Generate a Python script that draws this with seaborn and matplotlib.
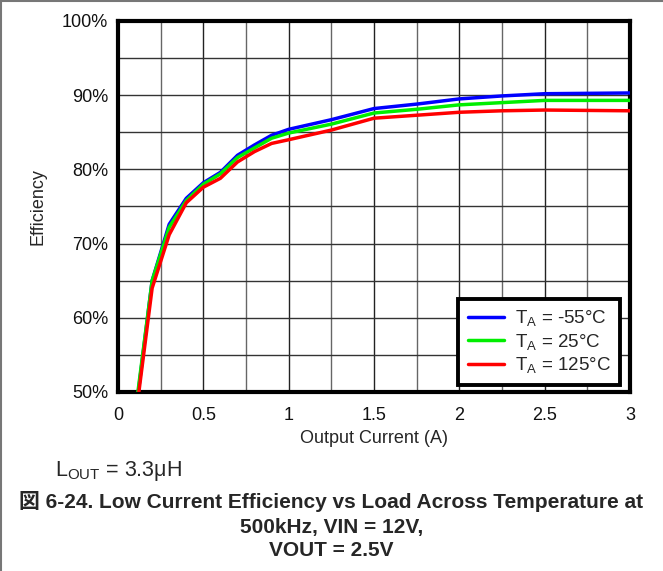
import matplotlib
matplotlib.use("Agg")
import matplotlib.pyplot as plt
from matplotlib.lines import Line2D
import seaborn as sns
import pandas as pd

# Output current (A) at each measured point
current = [0.1, 0.2, 0.3, 0.4, 0.5, 0.6, 0.7, 0.8, 0.9, 1.0,
           1.25, 1.5, 1.75, 2.0, 2.25, 2.5, 3.0]

# Efficiency (%) per ambient temperature
eff_m55 = [46.5, 65.0, 72.6, 76.1, 78.2, 79.6, 81.9, 83.3, 84.6, 85.4,
           86.7, 88.2, 88.8, 89.5, 89.9, 90.2, 90.3]
eff_25 = [47.0, 65.0, 72.2, 75.8, 78.0, 79.4, 81.6, 82.9, 84.2, 84.9,
          86.1, 87.6, 88.1, 88.7, 89.0, 89.3, 89.3]
eff_125 = [46.0, 64.0, 71.2, 75.5, 77.6, 78.8, 81.0, 82.4, 83.5, 84.0,
           85.3, 86.9, 87.3, 87.7, 87.9, 88.0, 87.9]

series_labels = ["T$_\\mathregular{A}$ = -55°C",
                 "T$_\\mathregular{A}$ = 25°C",
                 "T$_\\mathregular{A}$ = 125°C"]
series_colors = ["#0000ff", "#00ee00", "#ff0000"]

x_ticks = [0, 0.5, 1, 1.5, 2, 2.5, 3]
y_ticks = [50, 60, 70, 80, 90, 100]
y_tick_labels = ["50%", "60%", "70%", "80%", "90%", "100%"]

caption_lines = ["図 6-24. Low Current Efficiency vs Load Across Temperature at",
                 "500kHz, VIN = 12V,",
                 "VOUT = 2.5V"]

sns.set_theme(style="white")
plt.rcParams["font.family"] = ["Liberation Sans", "Noto Sans CJK JP", "DejaVu Sans"]
plt.rcParams["mathtext.default"] = "regular"

frames = []
for lbl, vals in zip(series_labels, [eff_m55, eff_25, eff_125]):
    frames.append(pd.DataFrame({"current": current, "eff": vals, "series": lbl}))
df = pd.concat(frames, ignore_index=True)

fig = plt.figure(figsize=(6.63, 5.71), dpi=100)
ax = fig.add_axes([118 / 663, 1 - 392 / 571, 512 / 663, 371 / 571])

# grid every 0.25 A and 5 %
for i, xv in enumerate([i * 0.25 for i in range(1, 12)]):
    ax.axvline(xv, color="#666666" if i % 2 == 0 else "#222222", lw=1.0, zorder=1)
for yv in range(55, 100, 5):
    ax.axhline(yv, color="#333333", lw=1.0, zorder=1)

sns.lineplot(data=df, x="current", y="eff", hue="series",
             palette=dict(zip(series_labels, series_colors)),
             lw=2.5, ax=ax, legend=False, zorder=3)

ax.set_xlim(0, 3)
ax.set_ylim(50, 100)
ax.set_xticks(x_ticks)
ax.set_xticklabels([f"{v:g}" for v in x_ticks], fontsize=13)
ax.set_yticks(y_ticks)
ax.set_yticklabels(y_tick_labels, fontsize=13)
ax.tick_params(axis="x", length=0, pad=11, colors="#111111")
ax.tick_params(axis="y", length=0, pad=7, colors="#111111")
ax.set_xlabel("Output Current (A)", fontsize=13, labelpad=4)
ax.set_ylabel("Efficiency", fontsize=13, labelpad=11)
for sp in ax.spines.values():
    sp.set_visible(True)
    sp.set_color("black")
    sp.set_linewidth(3)

handles = [Line2D([0], [0], color=c, lw=2.5) for c in series_colors]
leg = ax.legend(handles, series_labels, loc="lower right",
                bbox_to_anchor=(0.98, 0.02), fontsize=13.5,
                frameon=True, fancybox=False, handlelength=1.95,
                handletextpad=0.55, borderpad=0.5, labelspacing=0.18,
                borderaxespad=0)
leg.get_frame().set_edgecolor("black")
leg.get_frame().set_linewidth(2.8)
leg.get_frame().set_alpha(1)

fig.text(55 / 663, 1 - 471 / 571, "L$_\\mathregular{OUT}$ = 3.3μH",
         fontsize=15.5, va="center", ha="left")
for y_px, line in zip([502, 527, 551], caption_lines):
    fig.text(0.5, 1 - y_px / 571, line, fontsize=15, fontweight="bold",
             ha="center", va="center")

# page frame lines (top and left)
fig.add_artist(Line2D([0, 1], [0.998, 0.998], color="#777777", lw=1.5,
                      transform=fig.transFigure))
fig.add_artist(Line2D([0.001, 0.001], [0, 1], color="#777777", lw=1.5,
                      transform=fig.transFigure))

fig.savefig("out.png", dpi=100)
